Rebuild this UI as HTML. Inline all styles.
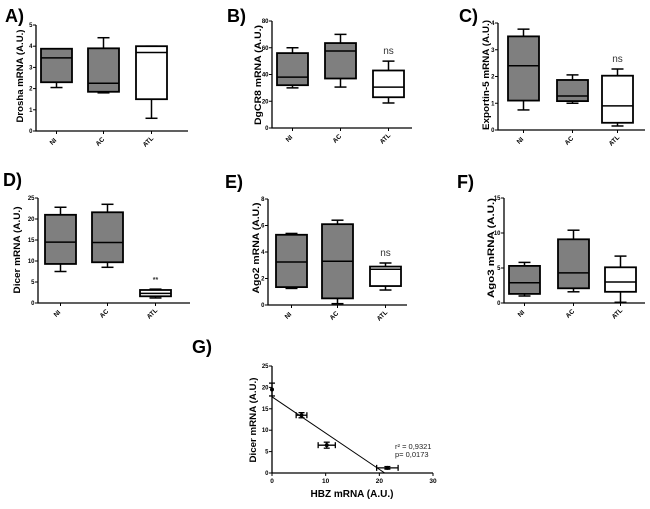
<!DOCTYPE html>
<html><head><meta charset="utf-8"><style>
body{margin:0;background:#fff;width:650px;height:504px;overflow:hidden}
svg{font-family:"Liberation Sans",sans-serif}
</style></head><body>
<svg id="fig" width="650" height="504"></svg>
<script>
const categories = ["NI","AC","ATL"];
// [min, q1, median, q3, max]
const dataA = [[2.05,2.3,3.45,3.88,3.88],[1.8,1.85,2.25,3.9,4.4],[0.6,1.5,3.7,4.0,4.0]];
const dataB = [[30,32,38,56,60],[30.6,37,57.6,63.5,70],[18.7,23,30.6,43,50]];
const dataC = [[0.75,1.1,2.4,3.5,3.77],[1.0,1.08,1.27,1.87,2.06],[0.15,0.27,0.9,2.03,2.28]];
const dataD = [[7.5,9.3,14.5,21,22.8],[8.5,9.7,14.4,21.6,23.5],[1.2,1.6,2.3,3.1,3.3]];
const dataE = [[1.25,1.35,3.25,5.3,5.4],[0.1,0.5,3.3,6.1,6.4],[1.13,1.43,2.7,2.9,3.17]];
const dataF = [[1,1.3,2.9,5.3,5.8],[1.6,2.1,4.3,9.1,10.4],[0.1,1.6,3.0,5.1,6.7]];
const ticksA=[0,1,2,3,4,5], ticksB=[0,20,40,60,80], ticksC=[0,1,2,3,4], ticksD=[0,5,10,15,20,25], ticksE=[0,2,4,6,8], ticksF=[0,5,10,15];
const scatterX=[0,5.5,10.2,21.5], scatterY=[19.5,13.5,6.5,1.2], scatterXErr=[0,1,1.6,2], scatterYErr=[1.5,0.6,0.7,0.3];
const fitLine=[[0,17.8],[21,0]];
const ticksGX=[0,10,20,30], ticksGY=[0,5,10,15,20,25];

const NS="http://www.w3.org/2000/svg", svg=document.getElementById('fig');
function mk(tag,attrs,parent,text){const e=document.createElementNS(NS,tag);for(const k in attrs)e.setAttribute(k,attrs[k]);if(text!==undefined)e.textContent=text;(parent||svg).appendChild(e);return e;}

function panel(o){
  const g=mk('g',{});
  
  
  const ymax=o.ticks[o.ticks.length-1];
  const y=v=>o.y0-(v/ymax)*(o.y0-o.yTop);
  const lt=mk('text',{x:o.lx,y:o.ly,'font-size':18,'font-weight':'bold'},g,o.letter+')');
  
  const ax=mk('path',{d:`M${o.ax},${o.yTop}V${o.y0}H${o.axEnd}`,stroke:'#000','stroke-width':1.3,fill:'none'},g);
  
  o.ticks.forEach(t=>{
    mk('line',{x1:o.ax-3,x2:o.ax,y1:y(t),y2:y(t),stroke:'#000'},g);
    const tl=mk('text',{x:o.ax-3.5,y:y(t)+2,'font-size':6,'font-weight':'bold','text-anchor':'end'},g,t);
    
  });
  const cy=o.ylc;
  const yl=mk('text',{x:o.ylx,y:cy,'font-size':9,'font-weight':'bold','text-anchor':'middle',textLength:o.tl,lengthAdjust:'spacingAndGlyphs',transform:`rotate(-90 ${o.ylx} ${cy})`},g,o.ylabel);
  
  o.data.forEach((d,i)=>{
    const x1=o.bx[i], w=31, xc=x1+w/2;
    const bg=mk('g',{},g);
    
    
    const fill=i==2?'#fff':'#7f7f7f';
    mk('line',{x1:xc,x2:xc,y1:y(d[0]),y2:y(d[4]),stroke:'#000','stroke-width':1.5},bg);
    mk('line',{x1:xc-6,x2:xc+6,y1:y(d[0]),y2:y(d[0]),stroke:'#000','stroke-width':1.5},bg);
    mk('line',{x1:xc-6,x2:xc+6,y1:y(d[4]),y2:y(d[4]),stroke:'#000','stroke-width':1.5},bg);
    mk('rect',{x:x1,y:y(d[3]),width:w,height:y(d[1])-y(d[3]),fill:fill,stroke:'#000','stroke-width':1.8},bg);
    mk('line',{x1:x1,x2:x1+w,y1:y(d[2]),y2:y(d[2]),stroke:'#000','stroke-width':1.5},bg);
    mk('line',{x1:xc,x2:xc,y1:o.y0,y2:o.y0+3,stroke:'#000'},g);
    const cx=xc-2, cyl=o.y0+12;
    const cl=mk('text',{x:cx,y:cyl,'font-size':6.5,'font-weight':'bold','text-anchor':'middle',transform:`rotate(-45 ${cx} ${cyl})`},g,categories[i]);
    
  });
  if(o.note){
    const xc=o.bx[2]+15.5;
    const nt=mk('text',{x:xc,y:y(o.data[2][4])-7,'font-size':o.note=='**'?7:10,'text-anchor':'middle','font-weight':o.note=='**'?'bold':'normal',fill:'#333'},g,o.note);
    
  }
}
panel({letter:'A',lx:5,ly:22,ax:36,yTop:25,y0:131,axEnd:188,ticks:ticksA,data:dataA,bx:[41,88,136],ylx:23,ylc:76,tl:93,ylabel:'Drosha mRNA (A.U.)'});
panel({letter:'B',lx:227,ly:22,ax:272,yTop:21,y0:128,axEnd:412,ticks:ticksB,data:dataB,bx:[277,325,373],ylx:261,ylc:75,tl:100,ylabel:'DgCR8 mRNA (A.U.)',note:'ns'});
panel({letter:'C',lx:459,ly:22,ax:498,yTop:23,y0:130,axEnd:645,ticks:ticksC,data:dataC,bx:[508,557,602],ylx:489,ylc:75,tl:110,ylabel:'Exportin-5 mRNA (A.U.)',note:'ns'});
panel({letter:'D',lx:3,ly:186,ax:38,yTop:198,y0:303,axEnd:190,ticks:ticksD,data:dataD,bx:[45,92,140],ylx:20,ylc:250,tl:87,ylabel:'Dicer mRNA (A.U.)',note:'**'});
panel({letter:'E',lx:225,ly:188,ax:268,yTop:199,y0:305,axEnd:407,ticks:ticksE,data:dataE,bx:[276,322,370],ylx:259,ylc:248,tl:91,ylabel:'Ago2 mRNA (A.U.)',note:'ns'});
panel({letter:'F',lx:457,ly:188,ax:504,yTop:198,y0:303,axEnd:645,ticks:ticksF,data:dataF,bx:[509,558,605],ylx:494,ylc:248,tl:100,ylabel:'Ago3 mRNA (A.U.)'});

// Panel G
(function(){
  const g=mk('g',{});
  
  
  const ax=272,y0=473,yTop=366,xEnd=433;
  const X=v=>ax+v/30*(xEnd-ax), Y=v=>y0-v/25*(y0-yTop);
  const lt=mk('text',{x:192,y:353,'font-size':18,'font-weight':'bold'},g,'G)');
  
  const a=mk('path',{d:`M${ax},${yTop}V${y0}H${xEnd}`,stroke:'#000','stroke-width':1.3,fill:'none'},g);
  
  ticksGY.forEach(t=>{mk('line',{x1:ax-3,x2:ax,y1:Y(t),y2:Y(t),stroke:'#000'},g);
    const tl=mk('text',{x:ax-3.5,y:Y(t)+2,'font-size':6,'font-weight':'bold','text-anchor':'end'},g,t);
    });
  ticksGX.forEach(t=>{mk('line',{x1:X(t),x2:X(t),y1:y0,y2:y0+3,stroke:'#000'},g);
    const tl=mk('text',{x:X(t),y:y0+10,'font-size':6.5,'font-weight':'bold','text-anchor':'middle'},g,t);
    });
  const yl=mk('text',{x:256,y:420,'font-size':9,'font-weight':'bold','text-anchor':'middle',textLength:85,lengthAdjust:'spacingAndGlyphs',transform:'rotate(-90 256 420)'},g,'Dicer mRNA (A.U.)');
  
  const xl=mk('text',{x:352,y:497,'font-size':10,'font-weight':'bold','text-anchor':'middle'},g,'HBZ mRNA (A.U.)');
  
  const fl=mk('line',{x1:X(fitLine[0][0]),y1:Y(fitLine[0][1]),x2:X(fitLine[1][0]),y2:Y(fitLine[1][1]),stroke:'#000','stroke-width':1},g);
  
  scatterX.forEach((xv,i)=>{
    const pg=mk('g',{},g);
    
    
    const px=X(xv),py=Y(scatterY[i]),ex=scatterXErr[i],ey=scatterYErr[i];
    if(ex>0){mk('line',{x1:X(xv-ex),x2:X(xv+ex),y1:py,y2:py,stroke:'#000','stroke-width':1.3},pg);
      [xv-ex,xv+ex].forEach(v=>mk('line',{x1:X(v),x2:X(v),y1:py-3,y2:py+3,stroke:'#000','stroke-width':1.3},pg));}
    mk('line',{x1:px,x2:px,y1:Y(scatterY[i]-ey),y2:Y(scatterY[i]+ey),stroke:'#000','stroke-width':1.3},pg);
    [scatterY[i]-ey,scatterY[i]+ey].forEach(v=>mk('line',{x1:px-3,x2:px+3,y1:Y(v),y2:Y(v),stroke:'#000','stroke-width':1.3},pg));
    mk('circle',{cx:px,cy:py,r:2,fill:'#000'},pg);
  });
  const s1=mk('text',{x:395,y:449,'font-size':7.5,fill:'#222'},g,'r² = 0,9321');
  
  const s2=mk('text',{x:395,y:457,'font-size':7.5,fill:'#222'},g,'p= 0,0173');
  
})();
</script>
</body></html>
